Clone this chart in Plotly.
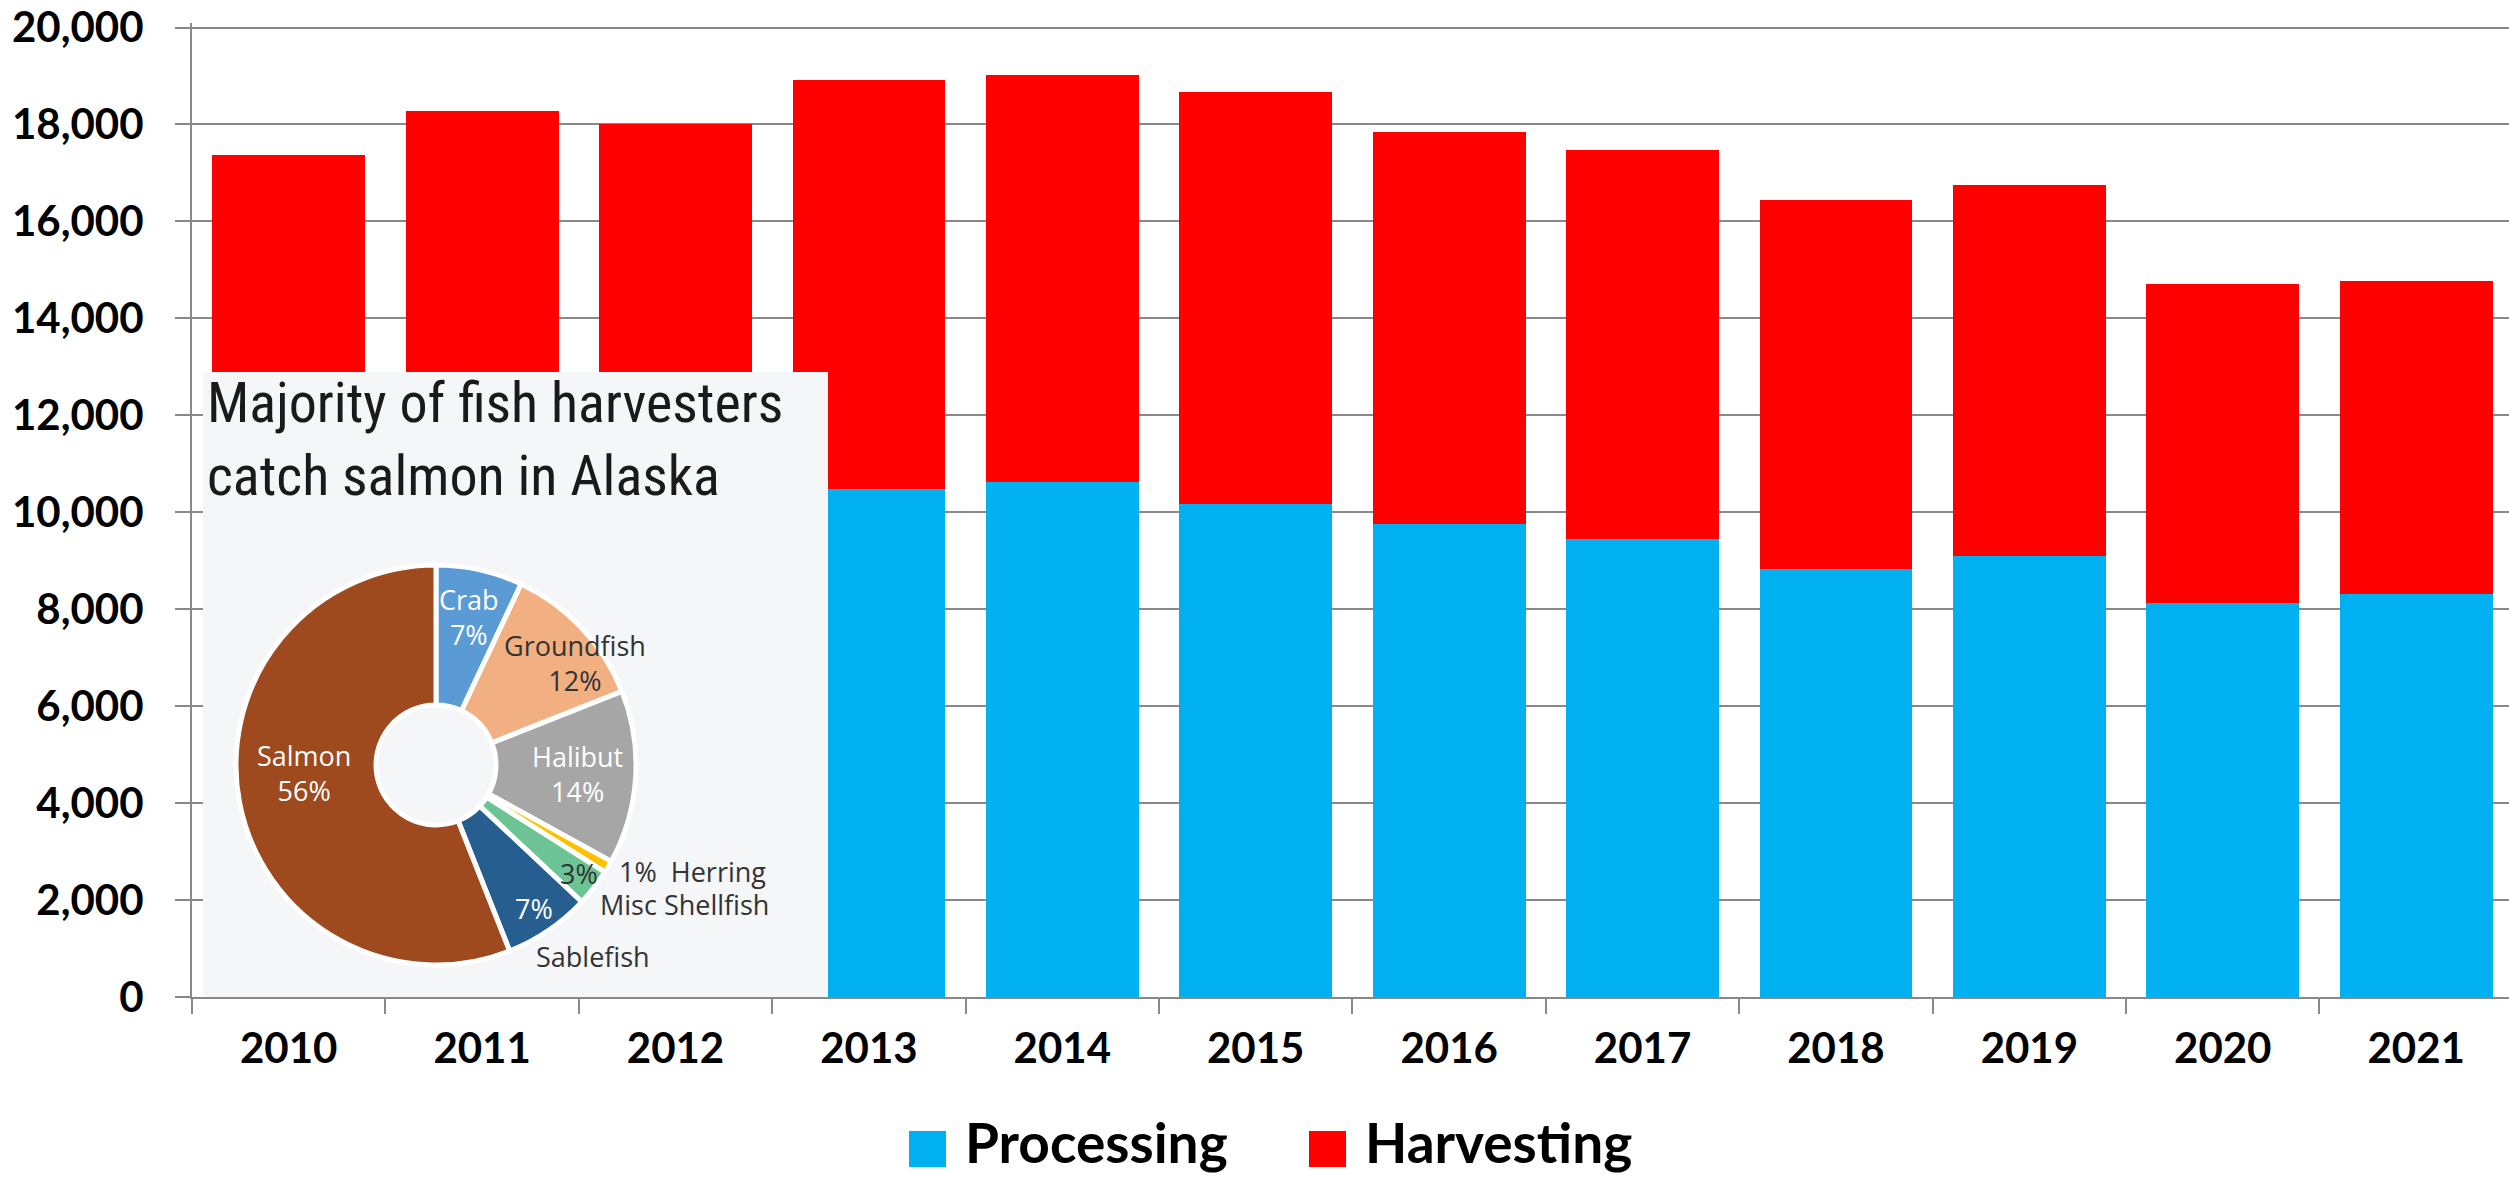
import math
import plotly.graph_objects as go

# ---------------- data ----------------
years = ["2010", "2011", "2012", "2013", "2014", "2015",
         "2016", "2017", "2018", "2019", "2020", "2021"]
processing = [9900, 10300, 10200, 10490, 10620, 10160, 9760, 9450, 8820, 9100, 8130, 8320]
harvesting = [7480, 7970, 7800, 8430, 8400, 8500, 8080, 8020, 7630, 7650, 6570, 6450]

y_ticks = [0, 2000, 4000, 6000, 8000, 10000, 12000, 14000, 16000, 18000, 20000]

pie_title = "Majority of fish harvesters<br>catch salmon in Alaska"
pie_labels = ["Crab", "Groundfish", "Halibut", "Herring", "Misc Shellfish", "Sablefish", "Salmon"]
pie_values = [7, 12, 14, 1, 3, 7, 56]

legend_names = ["Processing", "Harvesting"]

# ---------------- layout geometry / styles ----------------
W, H = 2509, 1177
ML, MR, MT, MB = 192, 0, 23, 180
PW, PH = W - ML - MR, H - MT - MB
Y_TOP = 20000 * PH / 969.5   # 20,000 sits ~4px below the top of the plot area

def px(x):  # window x -> paper fraction
    return (x - ML) / PW

def py(y):  # window y -> paper fraction
    return (H - MB - y) / PH

BLUE = "#00B0F0"
RED = "#FF0000"
GRID = "#898989"
FONT = "Lato, Open Sans, sans-serif"
PIE_FONT = "Open Sans, sans-serif"
pie_colors = ["#5B9BD5", "#F2AF82", "#A6A6A6", "#FFC000", "#6CC495", "#265E8F", "#9E4A1E"]
INSET_BG = "#F5F6F8"

fig = go.Figure()

fig.add_trace(go.Bar(x=years, y=processing, name=legend_names[0], marker_color=BLUE,
                     marker_line_width=0, showlegend=False))
fig.add_trace(go.Bar(x=years, y=harvesting, name=legend_names[1], marker_color=RED,
                     marker_line_width=0, showlegend=False))

# inset background panel (own subplot, drawn above the bars)
fig.add_trace(go.Heatmap(z=[[1]], x=[0], y=[0], xaxis="x2", yaxis="y2",
                         colorscale=[[0, INSET_BG], [1, INSET_BG]], showscale=False,
                         hoverinfo="skip"))

# pie geometry (window pixels)
pcx, pcy, pr = 436, 765, 200
pie_domain = dict(x=[px(pcx - pr), px(pcx + pr)], y=[py(pcy + pr), py(pcy - pr)])

fig.add_trace(go.Pie(labels=pie_labels, values=pie_values, sort=False, direction="clockwise",
                     rotation=0, hole=0.3, domain=pie_domain,
                     marker=dict(colors=pie_colors, line=dict(color="white", width=5)),
                     textinfo="none", hoverinfo="label+percent", showlegend=False))

fig.update_layout(
    width=W, height=H,
    margin=dict(l=ML, r=MR, t=MT, b=MB, pad=0, autoexpand=False),
    paper_bgcolor="white", plot_bgcolor="white",
    barmode="stack", bargap=0.21,
    font=dict(family=FONT, color="black"),
    xaxis=dict(type="category", range=[-0.5, 11.48], tickson="boundaries",
               ticks="outside", ticklen=15, tickwidth=2, tickcolor=GRID,
               showline=True, linecolor=GRID, linewidth=2, showgrid=False,
               automargin=False,
               tickfont=dict(family=FONT, size=42, weight="bold", color="black"),
               ticklabelstandoff=14),
    yaxis=dict(range=[0, Y_TOP], tickvals=y_ticks, tickformat=",",
               ticks="outside", ticklen=15, tickwidth=2, tickcolor=GRID,
               showline=True, linecolor=GRID, linewidth=2,
               showgrid=True, gridcolor=GRID, gridwidth=2, zeroline=False,
               automargin=False,
               tickfont=dict(family=FONT, size=42, weight="bold", color="black"),
               ticklabelstandoff=23, ticklabeloverflow="allow"),
    xaxis2=dict(domain=[px(203), px(828)], range=[-0.5, 0.5], visible=False,
                anchor="y2", fixedrange=True),
    yaxis2=dict(domain=[0, py(372)], range=[-0.5, 0.5], visible=False,
                anchor="x2", fixedrange=True),
)

annotations = [
    dict(xref="paper", yref="paper", x=px(205), y=py(439), xanchor="left", yanchor="middle",
         text=pie_title, showarrow=False, align="left",
         font=dict(family="Roboto Condensed, Liberation Sans Narrow, DejaVu Sans Condensed, sans-serif",
                   size=56, color="#1A1A1A")),
]

# slice labels, placed from each slice's mid-angle
total = sum(pie_values)
mids, cum = [], 0
for v in pie_values:
    mids.append(2 * math.pi * (cum + v / 2) / total)
    cum += v

# index: (radius fraction, x shift px, y shift px (down), anchor, template, colour)
slice_label_style = [
    (0, 0.76, 0, 0, "center", "{label}<br>{value}%", "white"),
    (1, 0.86, 14, 16, "center", "{label}<br>{value}%", "#333333"),
    (2, 0.71, 0, 0, "center", "{label}<br>{value}%", "white"),
    (4, 0.885, 3, 0, "center", "{value}%", "#333333"),
    (5, 0.87, 0, 0, "center", "{value}%", "white"),
    (6, 0.66, -2, -17, "center", "{label}<br>{value}%", "white"),
    (3, 1.05, 0, 0, "left", "{value}%  {label}", "#333333"),
    (4, 1.14, -18, 0, "left", "{label}", "#333333"),
    (5, 1.16, -32, 0, "left", "{label}", "#333333"),
]
for i, rf, dx, dy, anchor, tpl, col in slice_label_style:
    lx = pcx + rf * pr * math.sin(mids[i])
    ly = pcy - rf * pr * math.cos(mids[i])
    annotations.append(dict(xref="paper", yref="paper", x=px(lx + dx), y=py(ly + dy),
                            xanchor=anchor, yanchor="middle",
                            text=tpl.format(label=pie_labels[i], value=pie_values[i]),
                            showarrow=False, align="center",
                            font=dict(family=PIE_FONT, size=27, color=col)))

# legend (large swatches + labels)
legend_colors = [BLUE, RED]
sw_left = [909, 1309]
txt_left = [963, 1363]
shapes = []
for name, col, sx, tx in zip(legend_names, legend_colors, sw_left, txt_left):
    shapes.append(dict(type="rect", xref="paper", yref="paper",
                       x0=px(sx), x1=px(sx + 37), y0=py(1167), y1=py(1131),
                       fillcolor=col, line=dict(width=0), layer="above"))
    annotations.append(dict(xref="paper", yref="paper", x=px(tx), y=py(1142),
                            xanchor="left", yanchor="middle", text=name, showarrow=False,
                            font=dict(family=FONT, size=55, weight="bold", color="black")))

fig.update_layout(annotations=annotations, shapes=shapes)

# remove the default 8px page margin so the figure fills the window exactly
fig.write_html("out.html", config={"displayModeBar": False},
               post_script="document.body.style.margin='0';")
